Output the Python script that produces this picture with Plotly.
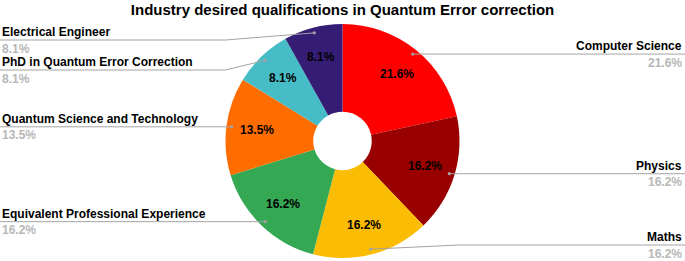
import math
import plotly.graph_objects as go

# ---- data ----
labels = ["Computer Science", "Physics", "Maths", "Equivalent Professional Experience",
          "Quantum Science and Technology", "PhD in Quantum Error Correction", "Electrical Engineer"]
counts = [8, 6, 6, 6, 5, 3, 3]
colors = ["#ff0000", "#990000", "#fbbc04", "#34a853", "#ff6d01", "#46bdc6", "#351c75"]
title = "Industry desired qualifications in Quantum Error correction"

# ---- layout geometry (pixels) ----
W, H = 685, 261
CX, CY, R = 342.5, 141, 117
HOLE = 0.25
FONT = "Liberation Sans, Arial, sans-serif"
LINE_COL = "#a3a3a3"
VAL_COL = "#b7b7b7"

total = sum(counts)
pcts = [c / total for c in counts]

fig = go.Figure()
fig.add_trace(go.Pie(
    labels=labels, values=counts, sort=False, direction="clockwise", rotation=0,
    hole=HOLE,
    marker=dict(colors=colors, line=dict(width=0)),
    textinfo="none",
    domain=dict(x=[(CX - R) / W, (CX + R) / W], y=[(H - CY - R) / H, (H - CY + R) / H]),
    showlegend=False, hoverinfo="label+percent",
))

# ---- slice labels, leader lines and outside labels computed from the data ----
cum = 0.0
items = []
for lab, p in zip(labels, pcts):
    mid = (cum + p / 2) * 2 * math.pi
    cum += p
    dx, dy = math.sin(mid), -math.cos(mid)
    items.append(dict(label=lab, pct=p, dx=dx, dy=dy,
                      x=CX + 0.955 * R * dx, y=CY + 0.955 * R * dy,
                      side="right" if dx >= 0 else "left"))

shapes, annotations = [], []
for it in items:
    annotations.append(dict(x=CX + 0.74 * R * it["dx"], y=CY + 0.74 * R * it["dy"],
                            xref="x", yref="y", text=f"{it['pct'] * 100:.1f}%",
                            showarrow=False, xanchor="center", yanchor="middle",
                            font=dict(family=FONT, size=12, color="#000000", weight="bold")))

TOP, BOTTOM, GAP = 40, 245, 30
for side in ("left", "right"):
    group = sorted([it for it in items if it["side"] == side], key=lambda it: it["y"])
    prev = -1e9
    for it in group:
        ly = max(it["y"], TOP, prev + GAP)
        ly = min(ly, BOTTOM)
        prev = ly
        if side == "left":
            edge, elbow, tx, anchor = 0, CX - R, 0, "left"
        else:
            edge, elbow, tx, anchor = W, CX + R, W - 1, "right"
        shapes.append(dict(type="path", xref="x", yref="y", layer="above",
                           path=f"M {edge},{ly} L {elbow},{ly} L {it['x']:.2f},{it['y']:.2f}",
                           line=dict(color=LINE_COL, width=1)))
        shapes.append(dict(type="circle", xref="x", yref="y", layer="above",
                           x0=it["x"] - 1.6, x1=it["x"] + 1.6, y0=it["y"] - 1.6, y1=it["y"] + 1.6,
                           fillcolor=LINE_COL, line=dict(width=0)))
        annotations.append(dict(x=tx, y=ly - 8, xref="x", yref="y", text=it["label"],
                                showarrow=False, xanchor=anchor, yanchor="middle",
                                font=dict(family=FONT, size=12, color="#000000", weight="bold")))
        annotations.append(dict(x=tx, y=ly + 8.5, xref="x", yref="y",
                                text=f"{it['pct'] * 100:.1f}%",
                                showarrow=False, xanchor=anchor, yanchor="middle",
                                font=dict(family=FONT, size=12, color=VAL_COL, weight="bold")))

fig.update_layout(
    width=W, height=H,
    margin=dict(l=0, r=0, t=0, b=0),
    paper_bgcolor="white", plot_bgcolor="rgba(0,0,0,0)",
    title=dict(text=title, x=0.5, xanchor="center", y=1 - 10 / H, yref="container",
               yanchor="middle", font=dict(family=FONT, size=15, color="black", weight="bold")),
    xaxis=dict(range=[0, W], visible=False, fixedrange=True),
    yaxis=dict(range=[H, 0], visible=False, fixedrange=True),
    shapes=shapes, annotations=annotations,
)

fig.write_html("out.html", config={"displayModeBar": False},
               post_script="document.body.style.margin='0';document.body.style.overflow='hidden';")
